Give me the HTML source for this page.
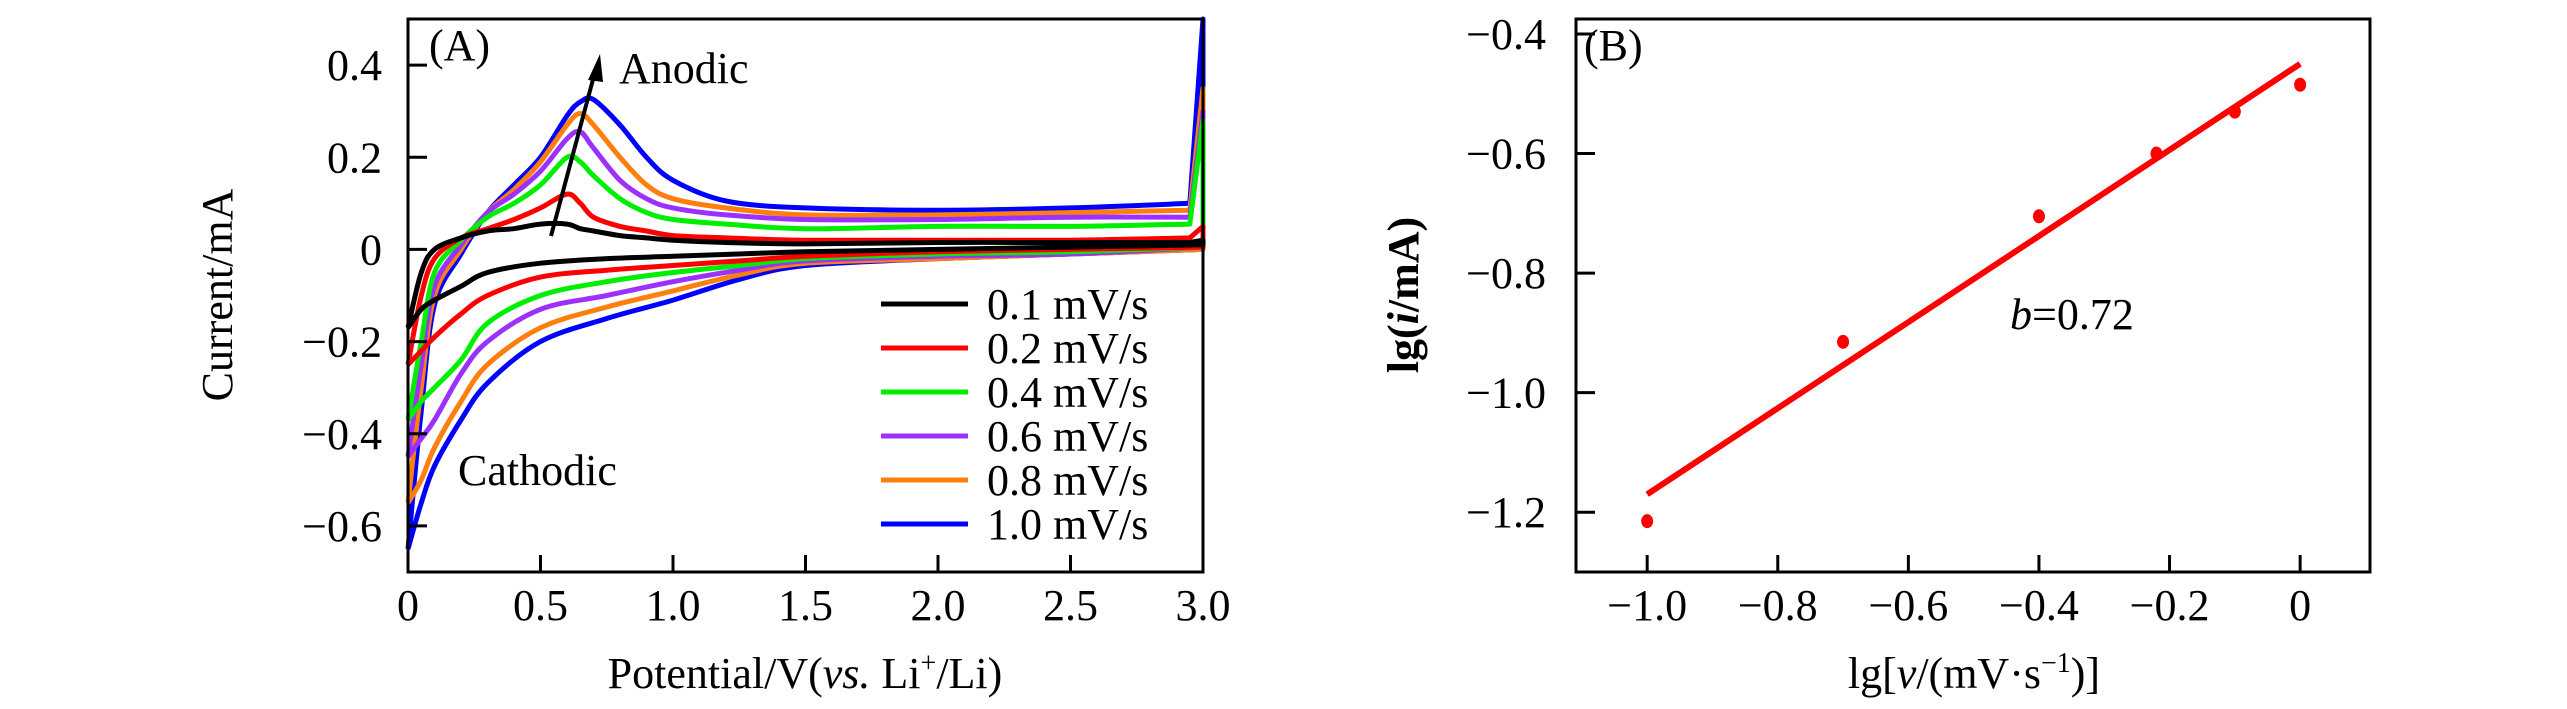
<!DOCTYPE html>
<html><head><meta charset="utf-8"><style>
html,body{margin:0;padding:0;background:#fff;}
svg{display:block;font-family:"Liberation Serif",serif;}
</style></head><body>
<svg id="fig" width="2567" height="709" viewBox="0 0 2567 709" xmlns="http://www.w3.org/2000/svg">
<g id="panelA"></g>
<g id="panelB"></g>
</svg>
<script>
// ---------- Panel A data ----------
const seriesLabels = ["0.1 mV/s","0.2 mV/s","0.4 mV/s","0.6 mV/s","0.8 mV/s","1.0 mV/s"];
const seriesColors = ["#000000","#ff0000","#00ee00","#9b30ff","#ff7f0e","#0000ff"];
const upperV = [0,0.05,0.1,0.2,0.3,0.4,0.5,0.6,0.65,0.7,0.8,0.9,1.0,1.2,1.5,2.0,2.5,2.95,3.0];
const lowerV = [3.0,2.5,2.0,1.5,1.25,1.0,0.75,0.5,0.3,0.2,0.1,0.05,0];
const upper01 = [-0.17,-0.05,0.0,0.025,0.04,0.045,0.055,0.055,0.045,0.04,0.03,0.025,0.02,0.015,0.012,0.015,0.015,0.015,0.02];
const lower01 = [0.01,0.005,0.0,-0.005,-0.01,-0.015,-0.02,-0.03,-0.05,-0.08,-0.11,-0.13,-0.17];
const upper02 = [-0.25,-0.1,-0.02,0.025,0.045,0.065,0.09,0.12,0.1,0.07,0.05,0.04,0.03,0.025,0.02,0.02,0.02,0.025,0.05];
const lower02 = [0.005,0,-0.005,-0.015,-0.025,-0.035,-0.045,-0.06,-0.1,-0.14,-0.19,-0.22,-0.25];
const upper04 = [-0.37,-0.2,-0.05,0.02,0.07,0.1,0.14,0.2,0.19,0.16,0.11,0.08,0.065,0.055,0.045,0.05,0.05,0.055,0.28];
const lower04 = [0.005,-0.005,-0.01,-0.02,-0.035,-0.05,-0.07,-0.1,-0.16,-0.24,-0.3,-0.33,-0.37];
const upper06 = [-0.45,-0.25,-0.08,0.01,0.08,0.12,0.17,0.24,0.255,0.22,0.15,0.11,0.09,0.075,0.065,0.065,0.07,0.07,0.3];
const lower06 = [0.005,-0.01,-0.015,-0.025,-0.045,-0.07,-0.1,-0.13,-0.2,-0.27,-0.37,-0.41,-0.45];
const upper08 = [-0.55,-0.3,-0.1,0.0,0.08,0.13,0.19,0.27,0.295,0.27,0.2,0.14,0.11,0.09,0.075,0.075,0.08,0.085,0.35];
const lower08 = [0,-0.01,-0.02,-0.03,-0.055,-0.09,-0.125,-0.17,-0.25,-0.33,-0.43,-0.5,-0.55];
const upper10 = [-0.65,-0.35,-0.12,-0.01,0.08,0.14,0.2,0.29,0.32,0.325,0.27,0.2,0.15,0.105,0.09,0.085,0.09,0.1,0.5];
const lower10 = [0,-0.01,-0.02,-0.035,-0.065,-0.11,-0.15,-0.2,-0.29,-0.37,-0.47,-0.55,-0.65];
const uppers = [upper01,upper02,upper04,upper06,upper08,upper10];
const lowers = [lower01,lower02,lower04,lower06,lower08,lower10];
const xTicksA = [0,0.5,1.0,1.5,2.0,2.5,3.0];
const xTickLabelsA = ["0","0.5","1.0","1.5","2.0","2.5","3.0"];
const yTicksA = [-0.6,-0.4,-0.2,0,0.2,0.4];
const yTickLabelsA = ["\u22120.6","\u22120.4","\u22120.2","0","0.2","0.4"];
// ---------- Panel B data ----------
const logV = [-1.0,-0.7,-0.4,-0.22,-0.1,0];
const logI = [-1.215,-0.915,-0.705,-0.6,-0.53,-0.485];
const fitX = [-1.0,0];
const fitY = [-1.17,-0.45];
const xTicksB = [-1.0,-0.8,-0.6,-0.4,-0.2,0];
const xTickLabelsB = ["\u22121.0","\u22120.8","\u22120.6","\u22120.4","\u22120.2","0"];
const yTicksB = [-1.2,-1.0,-0.8,-0.6,-0.4];
const yTickLabelsB = ["\u22121.2","\u22121.0","\u22120.8","\u22120.6","\u22120.4"];

const NS="http://www.w3.org/2000/svg";
function mk(tag,parent,attrs){const e=document.createElementNS(NS,tag);for(const k in attrs)e.setAttribute(k,attrs[k]);parent.appendChild(e);return e;}
function smooth(pts){
  let d='M'+pts[0][0].toFixed(1)+','+pts[0][1].toFixed(1);
  for(let i=0;i<pts.length-1;i++){
    const p0=pts[Math.max(0,i-1)],p1=pts[i],p2=pts[i+1],p3=pts[Math.min(pts.length-1,i+2)];
    const c1=[p1[0]+(p2[0]-p0[0])/6,p1[1]+(p2[1]-p0[1])/6];
    const c2=[p2[0]-(p3[0]-p1[0])/6,p2[1]-(p3[1]-p1[1])/6];
    d+='C'+c1[0].toFixed(1)+','+c1[1].toFixed(1)+' '+c2[0].toFixed(1)+','+c2[1].toFixed(1)+' '+p2[0].toFixed(1)+','+p2[1].toFixed(1);
  }
  return d;
}
const pt=p=>p[0].toFixed(1)+','+p[1].toFixed(1);

// Panel A
const A=document.getElementById('panelA');
const aL=408,aR=1203,aT=19,aB=572;
const ax=v=>aL+(v-0)/(3-0)*(aR-aL);
const ay=v=>aB-(v-(-0.7))/(0.5-(-0.7))*(aB-aT);
for(let s=uppers.length-1;s>=0;s--){
  const up=upperV.map((v,i)=>[ax(v),ay(uppers[s][i])]);
  const lo=lowerV.map((v,i)=>[ax(v),ay(lowers[s][i])]);
  const d=smooth(up.slice(0,-1))+' L'+pt(up[up.length-1])+' L'+pt(lo[0])+' '+smooth(lo).replace('M','L');
  const p=mk('path',A,{d:d,fill:'none',stroke:seriesColors[s],'stroke-width':5,'stroke-linejoin':'round'});
  
  
}
let fr=mk('rect',A,{x:aL,y:aT,width:aR-aL,height:aB-aT,fill:'none',stroke:'#000','stroke-width':3});


xTicksA.forEach((v,i)=>{
  const t=mk('line',A,{x1:ax(v),x2:ax(v),y1:aB,y2:aB-17,stroke:'#000','stroke-width':3});
  
  
  const l=mk('text',A,{x:ax(v),y:620,'font-size':44,'text-anchor':'middle'});
  l.textContent=xTickLabelsA[i];
  
  
});
yTicksA.forEach((v,i)=>{
  const t=mk('line',A,{x1:aL,x2:aL+19,y1:ay(v),y2:ay(v),stroke:'#000','stroke-width':3});
  
  
  const l=mk('text',A,{x:382,y:ay(v)+15,'font-size':44,'text-anchor':'end'});
  l.textContent=yTickLabelsA[i];
  
  
});
// legend
seriesLabels.forEach((lab,i)=>{
  const y=304+i*44;
  const ln=mk('line',A,{x1:881,x2:968,y1:y,y2:y,stroke:seriesColors[i],'stroke-width':5});
  
  
  const t=mk('text',A,{x:987,y:y+15,'font-size':44});
  t.textContent=lab;
  
  
});

// Panel B
const B=document.getElementById('panelB');
const bL=1576,bR=2370,bT=19,bB=572;
const bx=v=>bL+(v-(-1.109))/(0.107-(-1.109))*(bR-bL);
const by=v=>bB-(v-(-1.30))/(-0.375-(-1.30))*(bB-bT);
const fl=mk('line',B,{x1:bx(fitX[0]),y1:by(fitY[0]),x2:bx(fitX[1]),y2:by(fitY[1]),stroke:'#ff0000','stroke-width':6});


logV.forEach((v,i)=>{
  const c=mk('ellipse',B,{cx:bx(v),cy:by(logI[i]),rx:6,ry:7,fill:'#ff0000'});
  
  
});
fr=mk('rect',B,{x:bL,y:bT,width:bR-bL,height:bB-bT,fill:'none',stroke:'#000','stroke-width':3});


xTicksB.forEach((v,i)=>{
  const t=mk('line',B,{x1:bx(v),x2:bx(v),y1:bB,y2:bB-17,stroke:'#000','stroke-width':3});
  
  
  const l=mk('text',B,{x:bx(v),y:620,'font-size':44,'text-anchor':'middle'});
  l.textContent=xTickLabelsB[i];
  
  
});
yTicksB.forEach((v,i)=>{
  const t=mk('line',B,{x1:bL,x2:bL+19,y1:by(v),y2:by(v),stroke:'#000','stroke-width':3});
  
  
  const l=mk('text',B,{x:1546,y:by(v)+15,'font-size':44,'text-anchor':'end'});
  l.textContent=yTickLabelsB[i];
  
  
});
</script>
<svg width="2567" height="709" style="position:absolute;left:0;top:0;font-family:'Liberation Serif',serif" xmlns="http://www.w3.org/2000/svg">
  <text x="429" y="60" font-size="44">(A)</text>
  <text x="1584" y="60" font-size="44">(B)</text>
  <line x1="551" y1="236" x2="595" y2="72" stroke="#000" stroke-width="4"/>
  <polygon points="600,54 588,80 603,82" fill="#000"/>
  <text x="619" y="83" font-size="44">Anodic</text>
  <text x="458" y="485" font-size="44">Cathodic</text>
  <text x="2010" y="329" font-size="44"><tspan font-style="italic">b</tspan>=0.72</text>
  <text x="805" y="688" font-size="44" text-anchor="middle">Potential/V(<tspan font-style="italic">vs.</tspan> Li<tspan font-size="28" dy="-16">+</tspan><tspan dy="16">/Li)</tspan></text>
  <text x="1974" y="688" font-size="44" text-anchor="middle">lg[<tspan font-style="italic">v</tspan>/(mV·s<tspan font-size="28" dy="-16">−1</tspan><tspan dy="16">)]</tspan></text>
  <text transform="translate(232,295) rotate(-90)" font-size="44" text-anchor="middle">Current/mA</text>
  <text transform="translate(1418,295) rotate(-90)" font-size="44" font-weight="bold" text-anchor="middle">lg(<tspan font-style="italic">i</tspan>/mA)</text>
</svg>
</body></html>
